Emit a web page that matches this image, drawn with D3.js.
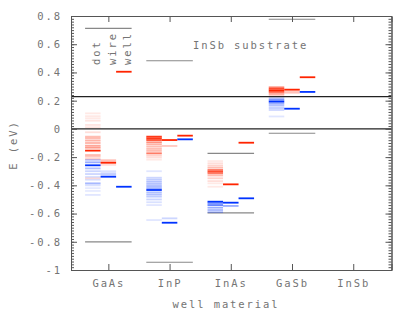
<!DOCTYPE html>
<html>
<head>
<meta charset="utf-8">
<script src="https://cdn.jsdelivr.net/npm/d3@7"></script>
<style>
  html, body { margin: 0; padding: 0; background: #fff; }
  text { font-family: "DejaVu Sans Mono", monospace; font-size: 10.5px; fill: #747474; letter-spacing: 1.9px; }
</style>
</head>
<body>
<svg id="chart" width="415" height="312"></svg>
<script>
// well materials along x
var materials = ["GaAs", "InP", "InAs", "GaSb", "InSb"];
var yTicks = [0.8, 0.6, 0.4, 0.2, 0, -0.2, -0.4, -0.6, -0.8, -1];

// bulk band edges (grey), InSb substrate lines (black)
var cbEdge = [0.713, 0.483, -0.174, 0.777, null];
var vbEdge = [-0.80, -0.945, -0.595, -0.031, null];
var substrateLines = [0.228, 0];

// quantum well levels
var wellElectron = [0.405, -0.048, -0.098, 0.366, null];
var wellHole = [-0.41, -0.074, -0.492, 0.262, null];

// quantum wire levels [E, weight]
var wireElectron = [
  [[-0.22, 0.2], [-0.23, 0.25], [-0.24, 1], [-0.255, 0.15]],
  [[-0.079, 1], [-0.121, 0.25]],
  [[-0.393, 1]],
  [[0.278, 1], [0.265, 0.25], [0.255, 0.2]],
  []
];
var wireHole = [
  [[-0.30, 0.15], [-0.315, 0.2], [-0.325, 0.2], [-0.339, 1]],
  [[-0.634, 0.2], [-0.665, 1]],
  [[-0.523, 1], [-0.546, 0.4]],
  [[0.143, 1]],
  []
];

// quantum dot levels [E, weight]
var dotElectron = [
  [[0.11, 0.1], [0.09, 0.1], [0.075, 0.1], [0.058, 0.12], [0.028, 0.12], [0.011, 0.12],
   [-0.024, 0.15], [-0.055, 0.3], [-0.067, 0.3], [-0.083, 0.35], [-0.10, 0.35], [-0.119, 0.4],
   [-0.133, 0.45], [-0.154, 1], [-0.185, 0.3], [-0.197, 0.25], [-0.213, 0.2], [-0.35, 0.15]],
  [[-0.055, 0.9], [-0.067, 0.9], [-0.079, 0.8], [-0.095, 0.5], [-0.11, 0.35], [-0.126, 0.3],
   [-0.142, 0.3], [-0.156, 0.3], [-0.173, 0.6], [-0.188, 0.2], [-0.202, 0.15], [-0.218, 0.1]],
  [[-0.228, 0.1], [-0.244, 0.15], [-0.26, 0.2], [-0.275, 0.3], [-0.291, 0.6], [-0.303, 0.8],
   [-0.315, 0.6], [-0.33, 0.3], [-0.35, 0.2], [-0.37, 0.15], [-0.386, 0.1], [-0.41, 0.1]],
  [[0.295, 0.5], [0.285, 0.8], [0.273, 1], [0.262, 0.7], [0.25, 0.4], [0.24, 0.2]],
  []
];
var dotHole = [
  [[-0.22, 0.25], [-0.237, 0.4], [-0.258, 1], [-0.28, 0.3], [-0.30, 0.2], [-0.32, 0.2],
   [-0.34, 0.15], [-0.36, 0.15], [-0.386, 0.35], [-0.40, 0.15], [-0.42, 0.1], [-0.44, 0.1], [-0.468, 0.12]],
  [[-0.30, 0.12], [-0.346, 0.2], [-0.36, 0.25], [-0.375, 0.3], [-0.39, 0.3], [-0.405, 0.35],
   [-0.42, 0.4], [-0.433, 1], [-0.45, 0.3], [-0.465, 0.3], [-0.48, 0.25], [-0.50, 0.2],
   [-0.52, 0.15], [-0.54, 0.12], [-0.646, 0.12]],
  [[-0.516, 1], [-0.527, 0.5], [-0.54, 0.6], [-0.558, 0.4], [-0.575, 0.35], [-0.59, 0.3]],
  [[0.217, 0.3], [0.205, 0.5], [0.193, 1], [0.179, 0.4], [0.165, 0.3], [0.148, 0.25], [0.134, 0.2], [0.088, 0.12]],
  []
];

var red = "#ff2400", blue = "#0033ff";

var svg = d3.select("#chart");
var plotLeft = 71, plotRight = 391.5, plotTop = 16, plotBottom = 270;

var x = d3.scaleLinear().domain([0.39, 5.625]).range([plotLeft, plotRight]);
var y = d3.scaleLinear().domain([-1, 0.8]).range([plotBottom, plotTop]);
// column offsets inside a material group: dot | wire | well
var col = d3.scaleBand().domain(["dot", "wire", "well"]).range([-0.38, 0.38]);

function colX(i, c) { return x(i + 1 + col(c)); }
function colW() { return x(col.bandwidth()) - x(0); }

// flatten all levels into marks
var marks = [];
materials.forEach(function(m, i){
  dotElectron[i].forEach(function(d){ marks.push({i: i, c: "dot", E: d[0], a: d[1], color: red}); });
  dotHole[i].forEach(function(d){ marks.push({i: i, c: "dot", E: d[0], a: d[1], color: blue}); });
  wireElectron[i].forEach(function(d){ marks.push({i: i, c: "wire", E: d[0], a: d[1], color: red}); });
  wireHole[i].forEach(function(d){ marks.push({i: i, c: "wire", E: d[0], a: d[1], color: blue}); });
  if(wellElectron[i] != null) marks.push({i: i, c: "well", E: wellElectron[i], a: 1, color: red});
  if(wellHole[i] != null) marks.push({i: i, c: "well", E: wellHole[i], a: 1, color: blue});
});

// band edges
var edges = [];
materials.forEach(function(m, i){
  if(cbEdge[i] != null) edges.push({i: i, E: cbEdge[i]});
  if(vbEdge[i] != null) edges.push({i: i, E: vbEdge[i]});
});

svg.append("g").selectAll("line").data(edges).enter().append("line")
  .attr("x1", function(d){ return colX(d.i, "dot"); })
  .attr("x2", function(d){ return colX(d.i, "well") + colW(); })
  .attr("y1", function(d){ return y(d.E); })
  .attr("y2", function(d){ return y(d.E); })
  .attr("stroke", "#888").attr("stroke-width", 1.2);

svg.append("g").selectAll("rect").data(marks).enter().append("rect")
  .attr("x", function(d){ return colX(d.i, d.c); })
  .attr("width", colW())
  .attr("y", function(d){ return y(d.E) - 0.9; })
  .attr("height", 1.8)
  .attr("fill", function(d){ return d.color; })
  .attr("fill-opacity", function(d){ return d.a; });

svg.append("g").selectAll("line").data(substrateLines).enter().append("line")
  .attr("x1", plotLeft).attr("x2", plotRight)
  .attr("y1", function(d){ return y(d); })
  .attr("y2", function(d){ return y(d); })
  .attr("stroke", "#222").attr("stroke-width", 1.2);

// axes
var fmt = function(d){ return String(+d.toFixed(1)); };
function styleAxis(g){
  g.select(".domain").attr("stroke", "#555");
  g.selectAll(".tick line").attr("stroke", "#555");
}

var minorTicks = d3.range(-50, 41).map(function(k){ return k * 0.02; });

svg.append("g").attr("transform", "translate(" + plotLeft + ",0)")
  .call(d3.axisLeft(y).tickValues(minorTicks).tickSize(-3).tickFormat(""))
  .call(styleAxis);
svg.append("g").attr("transform", "translate(" + plotLeft + ",0)")
  .call(d3.axisLeft(y).tickValues(yTicks).tickSize(-6).tickPadding(9).tickFormat(fmt))
  .call(styleAxis);
svg.append("g").attr("transform", "translate(" + plotRight + ",0)")
  .call(d3.axisRight(y).tickValues(minorTicks).tickSize(-3).tickFormat(""))
  .call(styleAxis);
svg.append("g").attr("transform", "translate(" + plotRight + ",0)")
  .call(d3.axisRight(y).tickValues(yTicks).tickSize(-6).tickFormat(""))
  .call(styleAxis);
svg.append("g").attr("transform", "translate(0," + plotTop + ")")
  .call(d3.axisTop(x).tickValues([1, 2, 3, 4, 5]).tickSize(-6).tickFormat(""))
  .call(styleAxis);
svg.append("g").attr("transform", "translate(0," + plotBottom + ")")
  .call(d3.axisBottom(x).tickValues([1, 2, 3, 4, 5]).tickSize(-6).tickPadding(10)
    .tickFormat(function(d){ return materials[d - 1]; }))
  .call(styleAxis);

// labels
svg.append("text").attr("transform", "translate(17,145) rotate(-90)")
  .attr("text-anchor", "middle").text("E  (eV)");
svg.append("text").attr("x", 226).attr("y", 308)
  .attr("text-anchor", "middle").text("well material");
svg.append("text").attr("x", 193).attr("y", 49).text("InSb substrate");

["dot", "wire", "well"].forEach(function(c){
  var bx = colX(0, c) + colW() - 0.5;
  svg.append("text").attr("transform", "translate(" + bx + ",65) rotate(-90)").text(c);
});
</script>
</body>
</html>
